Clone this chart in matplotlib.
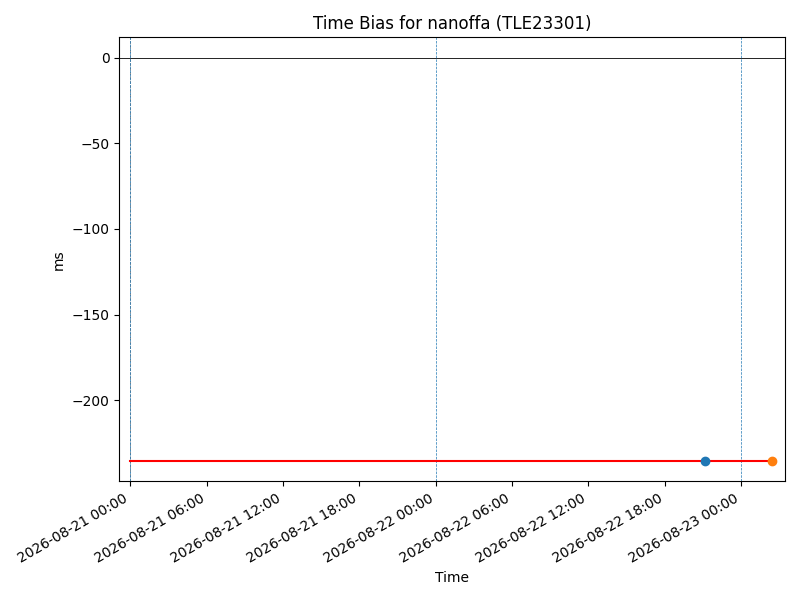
import matplotlib

matplotlib.use('Agg')
import matplotlib.pyplot as plt
import matplotlib.dates as mdates
import pandas as pd

# 数据
bias_ms = -235.5
line_times = pd.to_datetime(["2026-08-21 00:00", "2026-08-23 02:26"])
point_times = pd.to_datetime(["2026-08-22 21:10", "2026-08-23 02:26"])
point_colors = ["C0", "C1"]
day_marks = pd.to_datetime(["2026-08-21", "2026-08-22", "2026-08-23"])
xlim = pd.to_datetime(["2026-08-20 23:08", "2026-08-23 03:27"])

fig, ax = plt.subplots(figsize=(8, 6), dpi=100)

ax.axhline(0, color="black", linewidth=0.6)
ax.axvline(line_times[0], color="grey", linestyle="--", linewidth=0.6)
for d in day_marks:
    ax.axvline(d, color="C0", linestyle="--", linewidth=0.5)

ax.plot(line_times, [bias_ms, bias_ms], color="red", linewidth=1.5)
for t, c in zip(point_times, point_colors):
    ax.plot([t], [bias_ms], "o", color=c, zorder=3)

ax.set_xlim(xlim[0], xlim[1])
ax.xaxis.set_major_locator(mdates.HourLocator(byhour=[0, 6, 12, 18]))
ax.xaxis.set_major_formatter(mdates.DateFormatter("%Y-%m-%d %H:%M"))
fig.autofmt_xdate()

ax.set_title("Time Bias for nanoffa (TLE23301)")
ax.set_xlabel("Time")
ax.set_ylabel("ms")

fig.tight_layout()
fig.savefig("out.png")
